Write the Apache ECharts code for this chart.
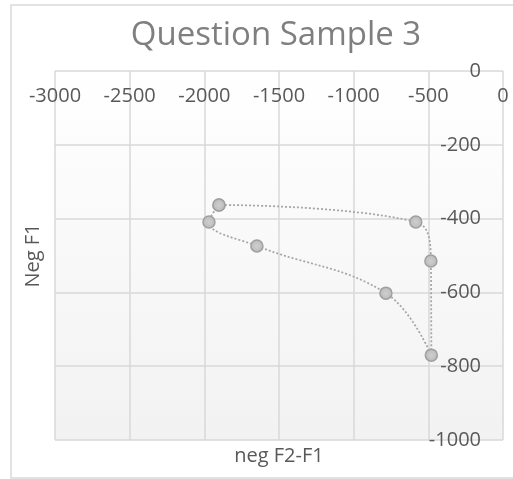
<!DOCTYPE html>
<html>
<head>
<meta charset="utf-8">
<style>
html,body{margin:0;padding:0;background:#fff;}
#c{width:513px;height:479px;}
</style>
<script src="https://cdn.jsdelivr.net/npm/echarts@6/dist/echarts.min.js"></script>
</head>
<body>
<div id="c"></div>
<script>
var titleText = 'Question Sample 3';
var xName = 'neg F2-F1';
var yName = 'Neg F1';
var xValues = [-1902, -1969, -1648, -784, -480, -483, -584, -1902];
var yValues = [-363, -409, -474, -602, -770, -515, -409, -363];

var FONT = 'Open Sans';
var chart = echarts.init(document.getElementById('c'));
var data = xValues.map(function (x, i) { return [x, yValues[i]]; });
var plain = function (v) { return String(v); };

chart.setOption({
  animation: false,
  graphic: [{
    type: 'rect', shape: {x: 11, y: 5, width: 520, height: 473},
    style: {fill: 'none', stroke: '#d9d9d9', lineWidth: 1.5}, z: -10
  }],
  title: {
    text: titleText, left: 271, top: 14, textAlign: 'center',
    textStyle: {fontFamily: FONT, fontSize: 33, fontWeight: 'normal', color: '#7f7f7f'}
  },
  grid: {
    left: 55, top: 71, right: 10, bottom: 39, show: true, borderWidth: 0,
    backgroundColor: {type: 'linear', x: 0, y: 0, x2: 0, y2: 1,
      colorStops: [{offset: 0, color: '#ffffff'}, {offset: 1, color: '#f2f2f2'}]}
  },
  xAxis: [{
    type: 'value', position: 'top', min: -3000, max: 0, interval: 500,
    axisLine: {show: false}, axisTick: {show: false},
    axisLabel: {inside: true, margin: 15, fontFamily: FONT, fontSize: 20, color: '#595959', formatter: plain},
    splitLine: {show: true, lineStyle: {color: '#d9d9d9', width: 1.5}}
  }, {
    type: 'value', position: 'bottom', min: -3000, max: 0,
    axisLine: {show: false}, axisTick: {show: false}, axisLabel: {show: false}, splitLine: {show: false},
    name: xName, nameLocation: 'middle', nameGap: 6, nameTextStyle: {fontFamily: FONT, fontSize: 20, color: '#595959', verticalAlign: 'top'}
  }],
  yAxis: [{
    type: 'value', position: 'right', min: -1000, max: 0, interval: 200,
    axisLine: {show: false}, axisTick: {show: false},
    axisLabel: {inside: true, margin: 22, fontFamily: FONT, fontSize: 20, color: '#595959', formatter: plain},
    splitLine: {show: true, lineStyle: {color: '#d9d9d9', width: 1.5}}
  }, {
    type: 'value', position: 'left', min: -1000, max: 0,
    axisLine: {show: false}, axisTick: {show: false}, axisLabel: {show: false}, splitLine: {show: false},
    name: yName, nameLocation: 'middle', nameGap: 12,
    nameTextStyle: {fontFamily: FONT, fontSize: 20, color: '#595959'}
  }],
  series: [{
    type: 'line', xAxisIndex: 0, yAxisIndex: 0, data: data, smooth: 0.4,
    symbol: 'circle', symbolSize: 12,
    lineStyle: {color: '#a6a6a6', width: 1.75, type: [2, 2]},
    itemStyle: {
      color: {type: 'radial', x: 0.5, y: 0.5, r: 0.6,
        colorStops: [{offset: 0, color: '#cfcfcf'}, {offset: 1, color: '#b5b5b5'}]},
      borderColor: '#a0a0a0', borderWidth: 1.5
    }
  }]
});
</script>
</body>
</html>
